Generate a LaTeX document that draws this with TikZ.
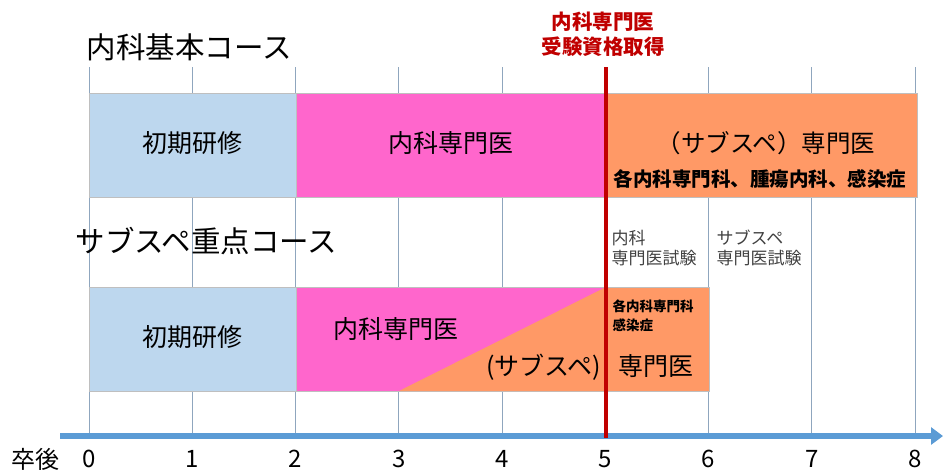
\documentclass[tikz,border=0pt]{standalone}
\usepackage{fontspec}
\setmainfont{Noto Sans CJK JP}
\usetikzlibrary{arrows.meta}

\definecolor{kenshu}{HTML}{BDD7EE}
\definecolor{naika}{HTML}{FF66CC}
\definecolor{subspe}{HTML}{FF9966}
\definecolor{gridline}{HTML}{8FA6BE}
\definecolor{axisblue}{HTML}{5B9BD5}
\definecolor{lineRed}{HTML}{C00000}
\definecolor{textgray}{HTML}{404040}

\begin{document}
\begin{tikzpicture}[x=1pt,y=-1pt,
	bar/.style={draw=black!25, line width=0.8pt},
	title/.style={font=\fontsize{29.5}{34}\selectfont},
	barlabel/.style={font=\fontsize{25}{30}\selectfont},
	exam/.style={anchor=west, align=left, text=textgray, font=\fontsize{17}{20}\selectfont},
	year/.style={font=\fontsize{24}{28}\selectfont}]
	\useasboundingbox (0,0) rectangle (943,472);

	% grid lines
	\foreach \i in {0,...,8}
		\draw[gridline, line width=0.9pt] (89+103.25*\i,67) -- (89+103.25*\i,436);

	% basic course bars
	\filldraw[bar, fill=kenshu] (89,93) rectangle (296,197);
	\filldraw[bar, fill=naika] (296,93) rectangle (606,197);
	\filldraw[bar, fill=subspe] (606,93) rectangle (917,197);

	% subspe course bars
	\filldraw[bar, fill=kenshu] (89,287) rectangle (296,391);
	\filldraw[bar, fill=naika] (296,287) rectangle (606,391);
	\fill[subspe] (399,391) -- (606,287) -- (606,391) -- cycle;
	\filldraw[bar, fill=subspe] (606,287) rectangle (709,391);

	% axis and exam line
	\draw[axisblue, line width=6pt, -{Triangle[length=12pt,width=17pt]}] (60,436) -- (943,436);
	\draw[lineRed, line width=3.5pt] (606,67) -- (606,438);

	% titles
	\node[title, anchor=west] (kihon) at (83,47) {内科基本コース};
	\node[title, anchor=west] (juten) at (72,241) {サブスペ重点コース};
	\node[text=lineRed, align=center, font=\bfseries\fontsize{20.5}{25}\selectfont] (shikaku) at (603,34) {内科専門医\\受験資格取得};

	% basic course labels
	\node[barlabel] (kenshuA) at (192,143) {初期研修};
	\node[barlabel] (naikaA) at (451,143) {内科専門医};
	\node[font=\fontsize{24.5}{28}\selectfont] (subspeA) at (766,143) {（サブスペ）専門医};
	\node[font=\bfseries\fontsize{19.5}{22}\selectfont] (kamokuA) at (760,179) {各内科専門科、腫瘍内科、感染症};

	% subspe course labels
	\node[barlabel] (kenshuB) at (192,337) {初期研修};
	\node[barlabel] (naikaB) at (396,329) {内科専門医};
	\node[barlabel] (subspeB) at (590,367) {(サブスペ)\hspace{0.7em}専門医};
	\node[anchor=west, align=left, font=\bfseries\fontsize{13.5}{19}\selectfont] (kamokuB) at (609,316) {各内科専門科\\感染症};

	% exams
	\node[exam] (examA) at (608,248) {内科\\専門医試験};
	\node[exam] (examB) at (713,248) {サブスペ\\専門医試験};

	% years
	\node[year] (sotsugo) at (36,459) {卒後};
	\foreach \i in {0,...,8}
		\node[year] (y\i) at (89+103.25*\i,459) {\i};
\end{tikzpicture}
\end{document}
